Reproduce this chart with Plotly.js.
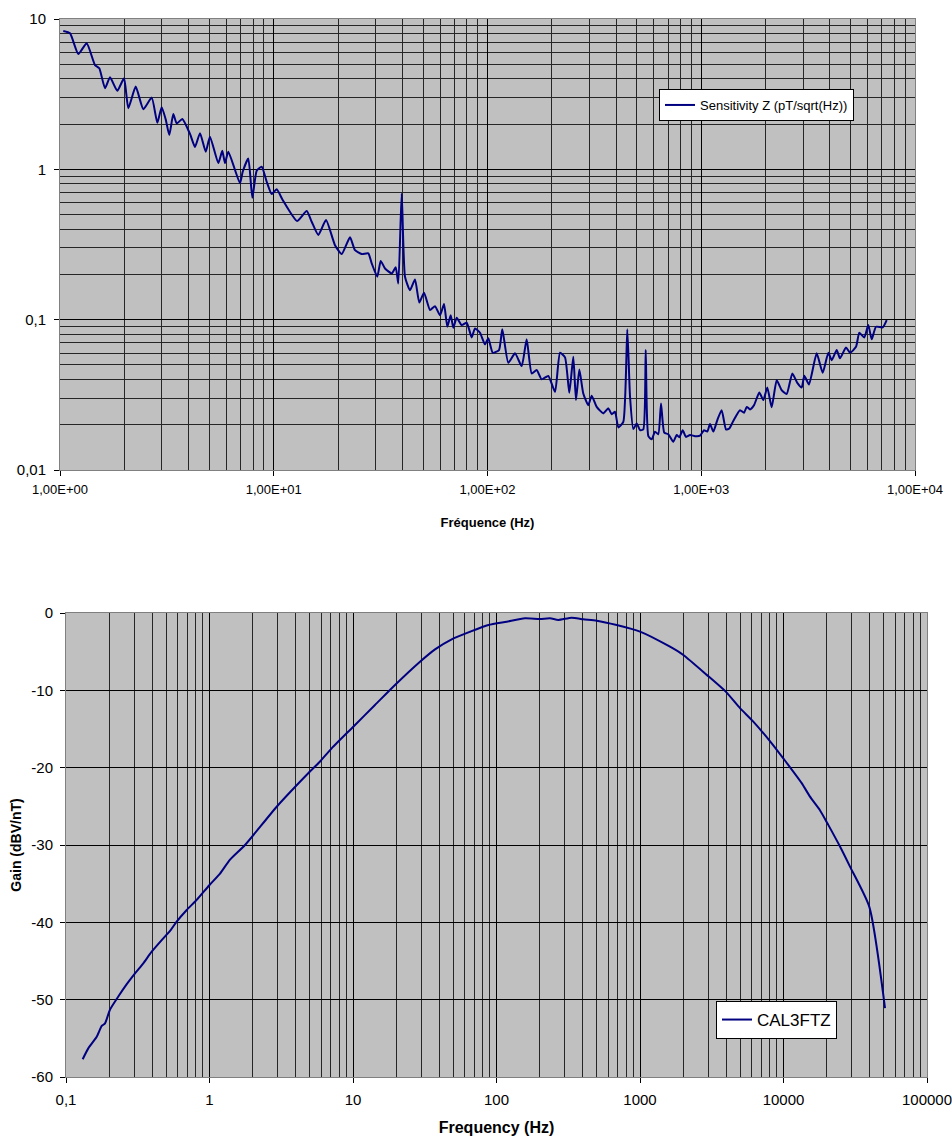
<!DOCTYPE html>
<html>
<head>
<meta charset="utf-8">
<script src="https://cdn.plot.ly/plotly-3.0.1.min.js"></script>
<style>html,body{margin:0;padding:0;background:#fff;}#chart{width:952px;height:1139px;}</style>
</head>
<body>
<div id="chart"></div>
<script>
// ---- Top chart: Sensitivity Z ----
const freqZ = [1.036,1.114,1.218,1.333,1.458,1.527,1.624,1.714,1.854,1.993,
2.087,2.261,2.454,2.686,2.853,2.99,3.123,3.246,3.389,3.516,
3.735,4.057,4.28,4.519,4.805,5.03,5.503,5.744,5.914,6.13,
6.953,7.157,7.60,7.94,8.32,8.78,9.27,9.78,10.32,11.01,
12.85,14.26,15.05,16.16,17.56,19.34,20.79,22.74,23.99,25.79,
27.70,28.72,30.51,31.65,33.16,35.63,37.20,38.25,39.68,41.11,
43.39,45.79,47.97,50.47,53.83,56.82,59.97,62.6,64.86,67.28,
69.2,71.76,75.74,79.94,84.36,87.4,92.24,97.3,100.9,105.8,
113.2,117.3,125.1,134.5,144.5,152.5,161.0,169.9,179.3,192.5,
207,218.4,230.5,241.4,252,259.4,268.9,280.6,296.1,307.2,
324.3,348.3,367.5,381.1,395,409.3,431.9,450.8,464.3,481.1,
499,517.1,535.8,549.8,565.5,586.5,607.7,629.6,648.2,671.6,
701.3,740.2,767.8,789.6,818.9,848.6,886,935,986.7,1030,
1067,1099,1139,1189,1246,1306,1353,1412,1518,1585,
1632,1691,1766,1869,1951,2037,2136,2254,2378,2510,
2667,2814,2951,3035,3192,3468,3700,3932,4077,4302,
4458,4755,4966,5297,5489,5792,6047,6272,6570,7063,
7373];
const sensZ = [8.32,8.03,5.85,6.89,4.94,4.70,3.46,4.09,3.33,4.03,
2.55,3.55,2.51,3.00,2.04,2.59,2.15,1.69,2.33,2.02,
2.16,1.72,1.41,1.74,1.31,1.65,1.10,1.33,1.10,1.31,
0.807,0.964,1.18,0.647,0.979,1.04,0.827,0.685,0.736,0.625,
0.453,0.528,0.448,0.366,0.460,0.313,0.273,0.353,0.290,0.273,
0.276,0.237,0.193,0.246,0.219,0.203,0.223,0.174,0.692,0.193,
0.157,0.185,0.130,0.151,0.116,0.123,0.107,0.127,0.0897,0.107,
0.0883,0.103,0.092,0.0954,0.0762,0.0875,0.0818,0.0685,0.0751,0.0602,
0.0628,0.0862,0.0516,0.0597,0.0491,0.074,0.0439,0.0462,0.0401,0.0422,
0.0331,0.0602,0.0561,0.0326,0.0566,0.0292,0.0467,0.0323,0.0270,0.0312,
0.0263,0.0238,0.0257,0.0235,0.0244,0.0192,0.0209,0.0862,0.0307,0.0187,
0.0204,0.0184,0.0186,0.0628,0.0168,0.0160,0.0180,0.0173,0.0277,0.0177,
0.0173,0.0154,0.0171,0.0165,0.0184,0.0166,0.0171,0.0168,0.0169,0.0184,
0.0180,0.0202,0.0180,0.0215,0.0250,0.0186,0.0189,0.0212,0.0250,0.0240,
0.0263,0.0253,0.0270,0.0328,0.0292,0.0354,0.0261,0.0396,0.0340,0.0320,
0.0439,0.0380,0.0354,0.0423,0.0371,0.0597,0.0443,0.0602,0.0538,0.0628,
0.0553,0.0654,0.0602,0.0660,0.0818,0.0762,0.0921,0.0740,0.0897,0.0889,
0.0994];
const topXTickVals = [1, 10, 100, 1000, 10000];
const topXTickText = ['1,00E+00', '1,00E+01', '1,00E+02', '1,00E+03', '1,00E+04'];
const topYTickVals = [0.01, 0.1, 1, 10];
const topYTickText = ['0,01', '0,1', '1', '10'];

// ---- Bottom chart: Gain CAL3FTZ ----
const freqG = [0.1307,0.143,0.1637,0.1774,0.187,0.2025,0.2314,0.265,0.3026,0.3457,
0.3956,0.4764,0.5364,0.5906,0.6937,0.8144,0.997,1.184,1.39,1.768,
2.94,5.01,5.89,7.1,10.05,14.23,19.62,29.3,37.3,48.7,
65.4,87.7,117.8,158,201,236,269.6,334,402,499,
688,1000,1618,2004,2916,3972,4977,6160,8276,9968,
13390,15300,17950,20510,24760,29070,39630,50970];
const gainG = [-57.7,-56.3,-54.8,-53.4,-53.06,-51.3,-49.6,-48.0,-46.6,-45.3,
-43.8,-42.07,-41.0,-39.9,-38.4,-37.1,-35.2,-33.7,-31.9,-30.0,
-25.05,-20.5,-19.2,-17.5,-14.7,-11.9,-9.31,-6.3,-4.7,-3.4,
-2.42,-1.55,-1.12,-0.69,-0.78,-0.69,-0.9,-0.6,-0.81,-0.99,
-1.55,-2.4,-4.36,-5.43,-8.0,-10.2,-12.3,-14.05,-16.85,-18.8,
-22.0,-23.75,-25.5,-27.4,-30.2,-32.8,-38.0,-51.1];
const botXTickVals = [0.1, 1, 10, 100, 1000, 10000, 100000];
const botXTickText = ['0,1', '1', '10', '100', '1000', '10000', '100000'];
const botYTickVals = [-60, -50, -40, -30, -20, -10, 0];
const botYTickText = ['-60', '-50', '-40', '-30', '-20', '-10', '0'];

// minor gridline positions (2..9 within each decade)
function minorVals(d0, d1) {
  const out = [];
  for (let d = d0; d < d1; d++) for (let k = 2; k <= 9; k++) out.push(k * Math.pow(10, d));
  return out;
}

const W = 952, H = 1139;
const FONT = 'Liberation Sans, Arial, sans-serif';
const NAVY = '#000080';
const GRID = '#000000';
const MINOR = '#262626';

const traces = [
  {x: freqZ, y: sensZ, type: 'scatter', mode: 'lines', name: 'Sensitivity Z (pT/sqrt(Hz))',
   line: {color: NAVY, width: 2, shape: 'spline', smoothing: 0.5}, xaxis: 'x', yaxis: 'y', legend: 'legend'},
  {x: freqG, y: gainG, type: 'scatter', mode: 'lines', name: 'CAL3FTZ',
   line: {color: NAVY, width: 2, shape: 'spline', smoothing: 0.6}, xaxis: 'x2', yaxis: 'y2', legend: 'legend2'}
];

const axisCommon = {
  showline: true, linecolor: '#808080', linewidth: 1, mirror: true,
  ticks: 'outside', ticklen: 5, tickcolor: '#000', tickwidth: 1,
  showgrid: true, gridcolor: GRID, gridwidth: 1, zeroline: false,
  fixedrange: true, ticklabeloverflow: 'allow'
};

const layout = {
  width: W, height: H,
  margin: {l: 0, r: 0, t: 0, b: 0},
  paper_bgcolor: '#ffffff',
  plot_bgcolor: '#C0C0C0',
  font: {family: FONT, color: '#000', size: 13},
  showlegend: true,
  xaxis: Object.assign({}, axisCommon, {
    type: 'log', range: [0, 4], domain: [60 / W, 915 / W], anchor: 'y',
    tickvals: topXTickVals, ticktext: topXTickText, tickfont: {size: 13},
    ticklabelstandoff: 2,
    minor: {tickvals: minorVals(0, 4), showgrid: true, gridcolor: MINOR, gridwidth: 1, ticks: ''},
    title: {text: 'Fréquence (Hz)', font: {size: 13, weight: 'bold'}, standoff: 22}
  }),
  yaxis: Object.assign({}, axisCommon, {
    type: 'log', range: [-2, 1], domain: [1 - 470 / H, 1 - 19 / H], anchor: 'x',
    tickvals: topYTickVals, ticktext: topYTickText, tickfont: {size: 15},
    ticklabelstandoff: 5,
    minor: {tickvals: minorVals(-2, 1), showgrid: true, gridcolor: MINOR, gridwidth: 1, ticks: ''}
  }),
  xaxis2: Object.assign({}, axisCommon, {
    type: 'log', range: [-1, 5], domain: [66 / W, 927 / W], anchor: 'y2',
    tickvals: botXTickVals, ticktext: botXTickText, tickfont: {size: 15},
    ticklabelstandoff: 4,
    minor: {tickvals: minorVals(-1, 5), showgrid: true, gridcolor: MINOR, gridwidth: 1, ticks: ''},
    title: {text: 'Frequency (Hz)', font: {size: 16, weight: 'bold'}, standoff: 14}
  }),
  yaxis2: Object.assign({}, axisCommon, {
    range: [-60, 0], domain: [1 - 1077 / H, 1 - 613 / H], anchor: 'x2',
    tickvals: botYTickVals, ticktext: botYTickText, tickfont: {size: 15},
    ticklabelstandoff: 4,
    title: {text: 'Gain (dBV/nT)', font: {size: 14, weight: 'bold'}, standoff: 6}
  }),
  legend: {
    x: 659 / W, y: 1 - 89 / H, xanchor: 'left', yanchor: 'top',
    bgcolor: '#ffffff', bordercolor: '#000', borderwidth: 1,
    font: {size: 13}, itemwidth: 30, tracegroupgap: 0
  },
  legend2: {
    x: 716 / W, y: 1 - 1001 / H, xanchor: 'left', yanchor: 'top',
    bgcolor: '#ffffff', bordercolor: '#000', borderwidth: 1,
    font: {size: 17}, itemwidth: 30, entrywidth: 125
  }
};

Plotly.newPlot('chart', traces, layout, {displayModeBar: false, staticPlot: true});
</script>
</body>
</html>
